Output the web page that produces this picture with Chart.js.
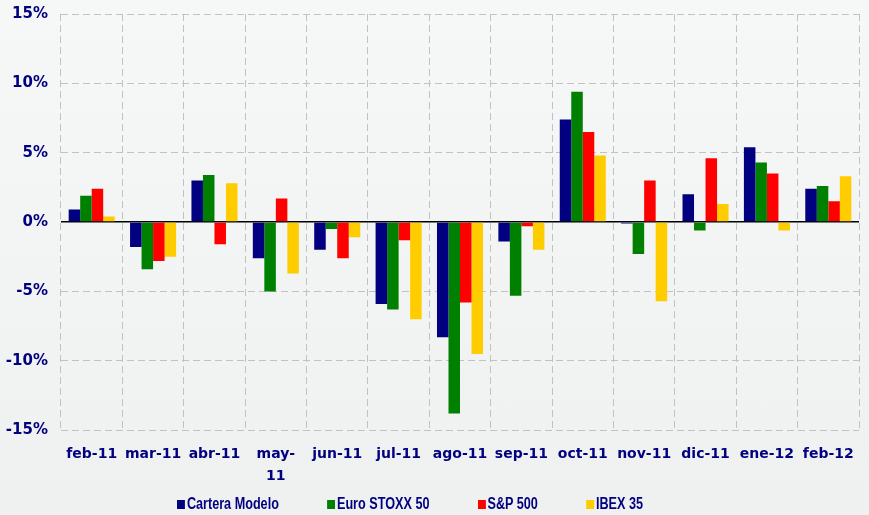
<!DOCTYPE html>
<html>
<head>
<meta charset="utf-8">
<script src="https://cdn.jsdelivr.net/npm/chart.js@4"></script>
<style>
  html, body { margin: 0; padding: 0; }
  body { position: relative; width: 869px; height: 515px; overflow: hidden; background: linear-gradient(#f6f7f7, #eff0f0); }
  canvas { display: block; }
  #legend { position: absolute; left: 177px; top: 495px; display: flex; gap: 61px; white-space: nowrap;
            transform: scaleX(0.79); transform-origin: 0 0;
            font: bold 16px 'Liberation Sans', Arial, sans-serif; line-height: 18px; color: #000080; }
  #legend i { display: inline-block; width: 10px; height: 9.5px; margin-right: 2.5px; }
</style>
</head>
<body>
<canvas id="myChart" width="869" height="515"></canvas>
<div id="legend"></div>
<script>
// months (may-11 wraps onto two lines in the original)
var categories = ['feb-11', 'mar-11', 'abr-11', ['may-', '11'], 'jun-11', 'jul-11', 'ago-11',
                  'sep-11', 'oct-11', 'nov-11', 'dic-11', 'ene-12', 'feb-12'];

// monthly returns, %
var carteraModelo = [0.9, -1.8, 3.0, -2.6, -2.0, -5.9, -8.3, -1.4, 7.4, -0.1, 2.0, 5.4, 2.4];
var euroStoxx50   = [1.9, -3.4, 3.4, -5.0, -0.5, -6.3, -13.8, -5.3, 9.4, -2.3, -0.6, 4.3, 2.6];
var sp500         = [2.4, -2.8, -1.6, 1.7, -2.6, -1.3, -5.8, -0.3, 6.5, 3.0, 4.6, 3.5, 1.5];
var ibex35        = [0.4, -2.5, 2.8, -3.7, -1.1, -7.0, -9.5, -2.0, 4.8, -5.7, 1.3, -0.6, 3.3];

var yMin = -15, yMax = 15, yStep = 5;

var navy = '#000080';
var gridGrey = '#c2c2c2';

var ctx = document.getElementById('myChart').getContext('2d');
var chart = new Chart(ctx, {
    type: 'bar',
    data: {
        labels: categories,
        datasets: [
            { label: 'Cartera Modelo', backgroundColor: '#000080', data: carteraModelo },
            { label: 'Euro STOXX 50', backgroundColor: '#008000', data: euroStoxx50 },
            { label: 'S&P 500', backgroundColor: '#ff0000', data: sp500 },
            { label: 'IBEX 35', backgroundColor: '#ffcc00', data: ibex35 }
        ]
    },
    options: {
        responsive: false,
        animation: false,
        categoryPercentage: 0.75,
        barPercentage: 1,
        layout: { padding: { left: 6, right: 10, top: 14, bottom: 14 } },
        plugins: {
            tooltip: { enabled: false },
            legend: { display: false }
        },
        scales: {
            x: {
                afterFit: function (scale) { scale.paddingLeft = 0; scale.paddingRight = 0; },
                grid: { color: gridGrey, lineWidth: 1, drawTicks: false },
                border: { display: false, dash: [7, 4] },
                ticks: {
                    color: navy,
                    padding: 13,
                    maxRotation: 0,
                    autoSkip: false,
                    font: { family: "'DejaVu Sans', sans-serif", size: 14, weight: 'bold', lineHeight: 1.6 }
                }
            },
            y: {
                min: yMin,
                max: yMax,
                afterFit: function (scale) { scale.width = 55; scale.paddingTop = 0; scale.paddingBottom = 0; },
                grid: {
                    drawTicks: false,
                    color: function (c) { return c.tick && c.tick.value === 0 ? '#000000' : gridGrey; },
                    lineWidth: function (c) { return c.tick && c.tick.value === 0 ? 1.5 : 1; }
                },
                border: {
                    display: false,
                    dash: function (c) { return c.tick && c.tick.value === 0 ? [] : [7, 4]; }
                },
                ticks: {
                    stepSize: yStep,
                    color: navy,
                    padding: 13,
                    font: { family: "'DejaVu Sans', sans-serif", size: 15, weight: 'bold' },
                    callback: function (v) { return v + '%'; }
                }
            }
        }
    }
});

// legend along the bottom, built from the datasets
var legendEl = document.getElementById('legend');
chart.data.datasets.forEach(function (ds) {
    var item = document.createElement('span');
    var box = document.createElement('i');
    box.style.background = ds.backgroundColor;
    item.appendChild(box);
    item.appendChild(document.createTextNode(ds.label));
    legendEl.appendChild(item);
});
</script>
</body>
</html>
